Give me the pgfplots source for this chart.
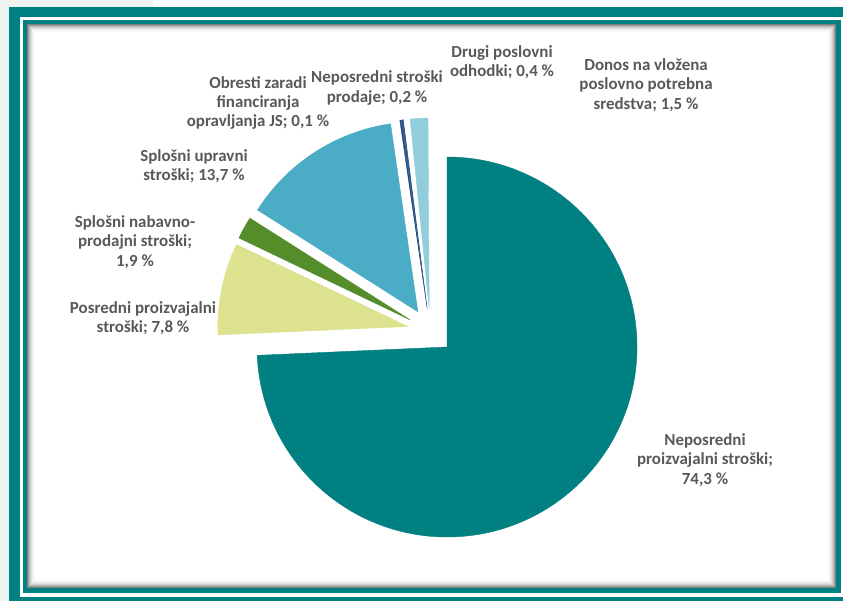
\documentclass[border=0pt]{standalone}
\usepackage{pgfplots}
\pgfplotsset{compat=1.18}
\usepackage{fontspec}
\setmainfont{Carlito}

\definecolor{cTeal}{HTML}{008080}
\definecolor{cLime}{HTML}{DCE28E}
\definecolor{cGreen}{HTML}{548D2A}
\definecolor{cAqua}{HTML}{4BACC6}
\definecolor{cNavy}{HTML}{1F497D}
\definecolor{cNavyb}{HTML}{2E5A8C}
\definecolor{cBlank}{HTML}{FFFFFF}
\definecolor{cIce}{HTML}{92CDDC}
\definecolor{labelgray}{HTML}{595959}
\definecolor{bgside}{HTML}{EFF3F1}

\begin{document}
\begin{tikzpicture}[lbl/.style={font=\fontsize{17}{19.5}\selectfont\bfseries,
    text=labelgray, align=center, inner sep=0pt}]
% frame (pixel units, y downwards)
\begin{scope}[x=1bp, y=-1bp, shift={(0,601bp)}]
  \fill[white] (0,0) rectangle (843,601);
  \fill[bgside] (0,0) rectangle (9,601);
  \fill[bgside] (0,0) rectangle (153,7);
  \fill[cTeal] (9,7) rectangle (843,601);
  \fill[white] (20,17) rectangle (843,597);
  \fill[cTeal] (23,20) rectangle (841,593);
  \fill[white] (27,24) rectangle (836,588);
  \foreach \i/\o in {0/0.50,1/0.38,2/0.28,3/0.19,4/0.12,5/0.07,6/0.04,7/0.02}{
    \draw[black, draw opacity=\o, line width=1bp]
      (27.5+\i,24.5+\i) rectangle (835.5-\i,587.5-\i);
  }
\end{scope}

\begin{axis}[
  scale only axis, width=843bp, height=601bp,
  xmin=0, xmax=843, ymin=0, ymax=601, y dir=reverse,
  hide axis, clip=false,
]
% pie: every slice pulled out 23 px from the centre along its middle
\addplot[scatter, only marks, mark=text, text mark={},
  point meta=\thisrow{share},
  visualization depends on={value \thisrow{start} \as \pstart},
  visualization depends on={value \thisrow{share} \as \pshare},
  visualization depends on={value \thisrow{colour} \as \pcol},
  scatter/@pre marker code/.code={%
    \pgfkeys{/pgf/fpu=false}%
    \pgfmathsetmacro\pa{90-3.6*\pstart}%
    \pgfmathsetmacro\pb{90-3.6*(\pstart+\pshare)}%
    \pgfmathsetmacro\pmid{(\pa+\pb)/2}%
    \fill[\pcol] (\pmid:23bp) -- ++(\pa:190bp)
      arc[start angle=\pa, end angle=\pb, radius=190bp] -- cycle;
  },
  scatter/@post marker code/.code={},
] table[x=cx, y=cy] {
cx    cy    start share colour
430.4 331.1 0     74.3  cTeal
430.4 331.1 74.3  7.8   cLime
430.4 331.1 82.1  1.9   cGreen
430.4 331.1 84.0  13.7  cAqua
430.4 331.1 97.7  0.1   cNavy
430.4 331.1 97.8  0.2   cNavyb
430.4 331.1 98.0  0.4   cBlank
430.4 331.1 98.4  1.5   cIce
};

\node[lbl] at (axis cs:705,460) {Neposredni\\proizvajalni stroški;\\74,3 \%};
\node[lbl] at (axis cs:143,318) {Posredni proizvajalni\\stroški; 7,8 \%};
\node[lbl] at (axis cs:135,242) {Splošni nabavno-\\prodajni stroški;\\1,9 \%};
\node[lbl] at (axis cs:194,166) {Splošni upravni\\stroški; 13,7 \%};
\node[lbl] at (axis cs:258,103) {Obresti zaradi\\financiranja\\opravljanja JS; 0,1 \%};
\node[lbl] at (axis cs:377,88) {Neposredni stroški\\prodaje; 0,2 \%};
\node[lbl] at (axis cs:502,62) {Drugi poslovni\\odhodki; 0,4 \%};
\node[lbl] at (axis cs:646,85) {Donos na vložena\\poslovno potrebna\\sredstva; 1,5 \%};
\end{axis}
\end{tikzpicture}
\end{document}
